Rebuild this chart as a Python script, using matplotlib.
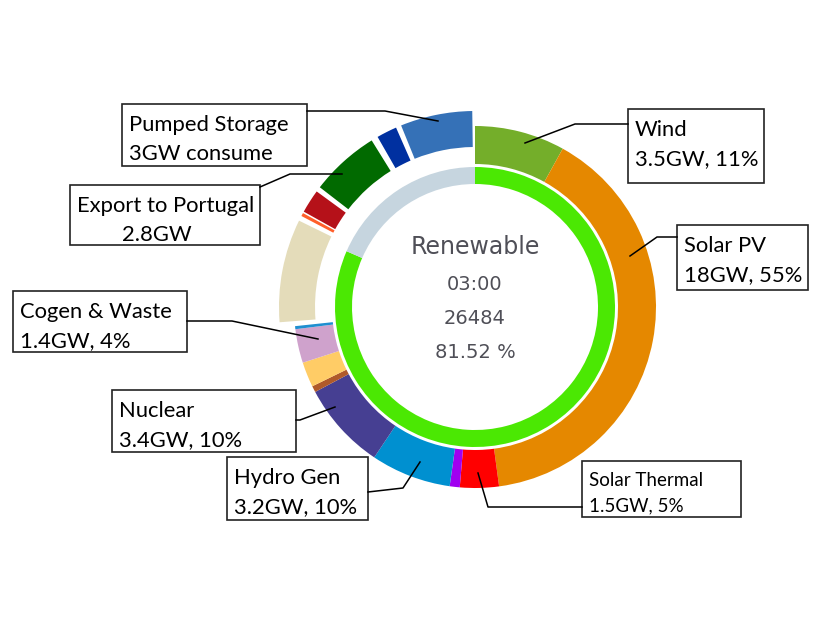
import matplotlib
matplotlib.use("Agg")
import matplotlib.pyplot as plt
from matplotlib.patches import Rectangle

# generation ring (GW), clockwise from 12 o'clock
gen_labels = ["Wind", "Solar PV", "Solar Thermal", "Other Renewables", "Hydro Gen",
              "Nuclear", "Coal", "Combined Cycle", "Cogen & Waste", "Other"]
gen_gw = [3.6, 17.8, 1.55, 0.4, 3.2, 3.5, 0.25, 1.0, 1.35, 0.12]
gen_colors = ["#74ae2a", "#e58800", "#ff0000", "#a000f0", "#0090d0",
              "#463f92", "#b05a2a", "#ffcc66", "#cfa2cc", "#1f8fd0"]

# consumption / exchanges ring (GW), after the generation part
exch_labels = ["Other exchanges", "Export to Andorra", "Export to Morocco",
               "Export to Portugal", "Export to France", "Pumped Storage"]
exch_gw = [3.8, 0.12, 0.87, 2.55, 0.75, 2.65]
exch_gaps = [0.2, 0.19, 0.06, 0.19, 0.25, 0.2, 0.1]
exch_colors = ["#e4dcba", "#ff5f2a", "#b51119", "#016a00", "#0030a0", "#3571b7"]

# inner ring
renew_pct = 81.52
inner_colors = ["#4be803", "#c6d5df"]

center_lines = ["Renewable", "03:00", "26484", "81.52 %"]

callouts = [
    ("Pumped Storage\n3GW consume", (122, 104, 307, 166), [(307, 111), (385, 111), (438, 121)]),
    ("Export to Portugal\n2.8GW", (70, 185, 260, 245), [(260, 187), (290, 174), (342, 174)]),
    ("Cogen & Waste\n1.4GW, 4%", (13, 291, 187, 352), [(187, 321), (232, 321), (318, 339)]),
    ("Nuclear\n3.4GW, 10%", (112, 390, 296, 452), [(296, 420), (300, 420), (335, 407)]),
    ("Hydro Gen\n3.2GW, 10%", (227, 457, 368, 520), [(368, 492), (403, 488), (420, 462)]),
    ("Wind\n3.5GW, 11%", (628, 109, 764, 183), [(628, 124), (575, 124), (525, 143)]),
    ("Solar PV\n18GW, 55%", (677, 225, 808, 290), [(677, 237), (657, 237), (630, 256)]),
    ("Solar Thermal\n1.5GW, 5%", (582, 461, 741, 517), [(582, 507), (488, 507), (478, 473)]),
]

W, H = 826, 620
cx, cy = 475, 307
FONT = ["Lato", "DejaVu Sans"]

fig = plt.figure(figsize=(W / 100, H / 100), dpi=100)
ax = fig.add_axes([0, 0, 1, 1])

gen_total = sum(gen_gw)
total = gen_total + sum(exch_gw) + sum(exch_gaps)

# y axis is inverted below, so startangle=-90 / counterclock=True draws clockwise from the top
ax.pie(gen_gw + [total - gen_total], colors=gen_colors + ["none"],
       center=(cx, cy), radius=181, startangle=-90, counterclock=True,
       wedgeprops=dict(width=38, edgecolor="none"), frame=True)

vals = [gen_total + exch_gaps[0]]
cols = ["none"]
for v, c, g in zip(exch_gw, exch_colors, exch_gaps[1:]):
    vals += [v, g]
    cols += [c, "none"]
ax.pie(vals, colors=cols, center=(cx, cy), radius=196, startangle=-90,
       counterclock=True, wedgeprops=dict(width=36, edgecolor="none"), frame=True)

ax.pie([renew_pct, 100 - renew_pct], colors=inner_colors, center=(cx, cy),
       radius=140, startangle=-90, counterclock=True,
       wedgeprops=dict(width=17, edgecolor="none"), frame=True)

ax.set_xlim(0, W)
ax.set_ylim(H, 0)
ax.axis("off")

ax.text(cx, 247, center_lines[0], ha="center", va="center", fontsize=17, color="#4f4f57")
for txt, y in zip(center_lines[1:], [284, 319, 353]):
    ax.text(cx, y, txt, ha="center", va="center", fontsize=14, color="#4f4f57")

for text, (x0, y0, x1, y1), pts in callouts:
    ax.add_patch(Rectangle((x0, y0), x1 - x0, y1 - y0, facecolor="white",
                           edgecolor="#222222", lw=1.2, zorder=3))
    xs, ys = zip(*pts)
    ax.plot(xs, ys, color="black", lw=1.1, zorder=4)
    line1, line2 = text.split("\n")
    small = line1 == "Solar Thermal"
    fs = 13.5 if small else 15.8
    b1, b2 = (25, 50) if small else (27, 56)
    ax.text(x0 + 7, y0 + b1, line1, ha="left", va="baseline", fontsize=fs,
            family=FONT, zorder=5)
    if line1.startswith("Export"):
        ax.text(157, y0 + b2, line2, ha="center", va="baseline", fontsize=fs,
                family=FONT, zorder=5)
    else:
        ax.text(x0 + 7, y0 + b2, line2, ha="left", va="baseline", fontsize=fs,
                family=FONT, zorder=5)

fig.savefig("out.png", dpi=100)
